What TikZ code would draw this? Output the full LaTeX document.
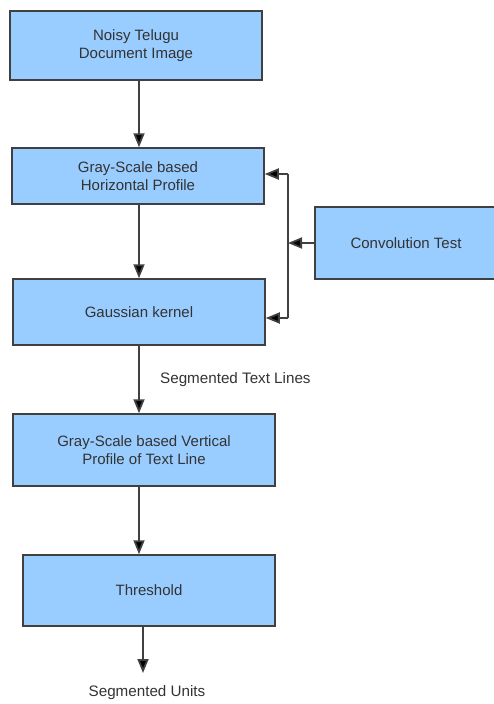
\documentclass[tikz,border=0pt]{standalone}
\usepackage{fontspec}
\setmainfont{Liberation Sans}
\usetikzlibrary{arrows.meta,calc,positioning}

\definecolor{boxblue}{HTML}{99CCFF}
\definecolor{boxline}{HTML}{404040}
\definecolor{txt}{HTML}{333333}

\tikzset{
  stage/.style={draw=boxline, line width=1.5pt, fill=boxblue, text=txt, align=center,
    font=\fontsize{15}{17.3}\selectfont, inner sep=0pt},
  flow/.style={->, draw=black!75, line width=1.8pt},
  note/.style={text=txt, font=\fontsize{15.2}{17}\selectfont, inner sep=0pt}
}

\begin{document}
\begin{tikzpicture}[x=1pt, y=-1pt, >={Triangle[length=14pt,width=11pt,fill=black]}]
\useasboundingbox (0,0) rectangle (493,704);

\node[stage, minimum width=252pt, minimum height=69pt] (noisy) at (136,45.5) {Noisy Telugu\\Document Image};
\node[stage, minimum width=252pt, minimum height=56pt] (hprof) at (138,176) {Gray-Scale based\\Horizontal Profile};
\node[stage, minimum width=252pt, minimum height=66pt] (gauss) at (139,312) {Gaussian kernel};
\node[stage, minimum width=182pt, minimum height=72pt] (conv) at (406,243) {Convolution Test};
\node[stage, minimum width=262pt, minimum height=72pt] (vprof) at (144,450) {Gray-Scale based Vertical\\Profile of Text Line};
\node[stage, minimum width=252pt, minimum height=71pt] (thresh) at (149,590.5) {Threshold};

\node[note, anchor=west] (lines) at (160,380) {Segmented Text Lines};
\node[note] (units) at (147,693) {Segmented Units};

\coordinate (axis) at (139,0);
\coordinate (top) at (288,174);
\coordinate (bot) at (288,318);
\coordinate (out) at (143,673);

\draw[flow] (noisy.south -| axis) -- (hprof.north -| axis);
\draw[flow] (hprof.south -| axis) -- (gauss.north -| axis);
\draw[flow] (gauss.south -| axis) -- (vprof.north -| axis);
\draw[flow] (vprof.south -| axis) -- (thresh.north -| axis);
\draw[flow] (thresh.south -| out) -- (out);

% feedback from the convolution test
\draw[draw=black!75, line width=1.8pt] (top) -- (bot);
\draw[flow] (conv.west) -- (conv.west -| top);
\draw[flow] (top) -- (top -| hprof.east);
\draw[flow] (bot) -- (bot -| gauss.east);

\end{tikzpicture}
\end{document}
